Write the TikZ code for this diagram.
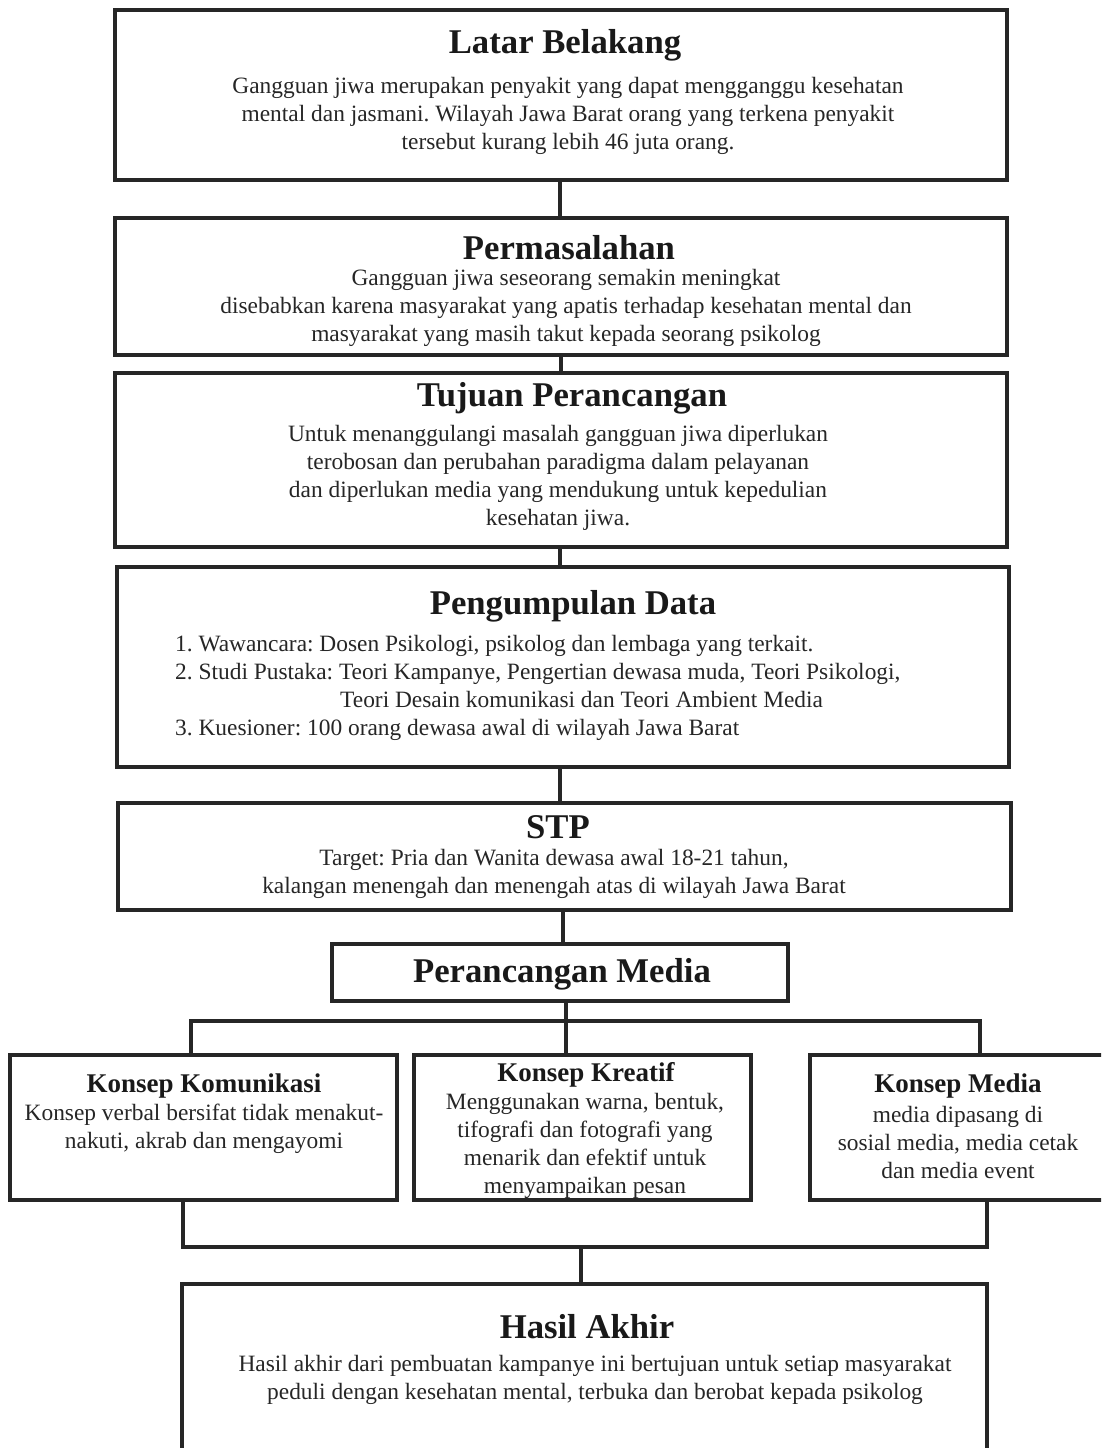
\documentclass[tikz,border=0pt]{standalone}
\usepackage{fontspec}
\setmainfont{Liberation Serif}
\usetikzlibrary{positioning}
\frenchspacing

\begin{document}
\begin{tikzpicture}[
    x=1pt, y=-1pt,
    box/.style={draw=black!85, line width=3.2pt, inner sep=0pt},
    ttl/.style={font=\fontsize{34.7}{40}\selectfont\bfseries, text=black!90, inner sep=0pt},
    sub/.style={font=\fontsize{27}{32}\selectfont\bfseries, text=black!90, inner sep=0pt},
    txt/.style={font=\fontsize{23.4}{28}\selectfont, text=black!85, align=center, inner sep=0pt},
    lnk/.style={draw=black!85, line width=3.2pt}
]
\useasboundingbox (0,0) rectangle (1101,1448);
\clip (0,0) rectangle (1101,1448);

% boxes
\node[box, minimum width=892, minimum height=170] (lb) at (561,95) {};
\node[box, minimum width=892, minimum height=137] (pm) at (561,286.5) {};
\node[box, minimum width=892, minimum height=174] (tp) at (561,460) {};
\node[box, minimum width=892, minimum height=200] (pd) at (563,667) {};
\node[box, minimum width=893, minimum height=107] (stp) at (564.5,856.5) {};
\node[box, minimum width=456, minimum height=57] (pmd) at (560,972.5) {};
\node[box, minimum width=387, minimum height=145] (kom) at (203.5,1127.5) {};
\node[box, minimum width=337, minimum height=145] (kre) at (582.5,1127.5) {};
\node[box, minimum width=294, minimum height=145] (med) at (957,1127.5) {};
\node[box, minimum width=805, minimum height=200] (hsl) at (584.5,1384) {};

% Latar Belakang
\node[ttl] (lbt) at (565,45) {Latar Belakang};
\node[txt] (lbx) at (568,116) {Gangguan jiwa merupakan penyakit yang dapat mengganggu kesehatan\\
    mental dan jasmani. Wilayah Jawa Barat orang yang terkena penyakit\\
    tersebut kurang lebih 46 juta orang.};

% Permasalahan
\node[ttl] (pmt) at (569,248) {Permasalahan};
\node[txt] (pmx) at (566,307.5) {Gangguan jiwa seseorang semakin meningkat\\
    disebabkan karena masyarakat yang apatis terhadap kesehatan mental dan\\
    masyarakat yang masih takut kepada seorang psikolog};

% Tujuan Perancangan
\node[ttl] (tpt) at (572,398) {Tujuan Perancangan};
\node[txt] (tpx) at (558,477.5) {Untuk menanggulangi masalah gangguan jiwa diperlukan\\
    terobosan dan perubahan paradigma dalam pelayanan\\
    dan diperlukan media yang mendukung untuk kepedulian\\
    kesehatan jiwa.};

% Pengumpulan Data
\node[ttl] (pdt) at (573,606) {Pengumpulan Data};
\node[txt, align=left, anchor=west] (pdx) at (175,688) {1. Wawancara: Dosen Psikologi, psikolog dan lembaga yang terkait.\\
    2. Studi Pustaka: Teori Kampanye, Pengertian dewasa muda, Teori Psikologi,\\
    \hspace*{165pt}Teori Desain komunikasi dan Teori Ambient Media\\
    3. Kuesioner: 100 orang dewasa awal di wilayah Jawa Barat};

% STP
\node[ttl] (stpt) at (558,827) {STP};
\node[txt] (stpx) at (554,873.5) {Target: Pria dan Wanita dewasa awal 18-21 tahun,\\
    kalangan menengah dan menengah atas di wilayah Jawa Barat};

% Perancangan Media
\node[ttl] (pmdt) at (562,974) {Perancangan Media};

% three concepts
\node[sub] (komt) at (204,1086) {Konsep Komunikasi};
\node[txt] (komx) at (204,1128.5) {Konsep verbal bersifat tidak menakut-\\
    nakuti, akrab dan mengayomi};
\node[sub] (kret) at (586,1075) {Konsep Kreatif};
\node[txt] (krex) at (585,1145.5) {Menggunakan warna, bentuk,\\
    tifografi dan fotografi yang\\
    menarik dan efektif untuk\\
    menyampaikan pesan};
\node[sub] (medt) at (958,1086) {Konsep Media};
\node[txt] (medx) at (958,1142.5) {media dipasang di\\
    sosial media, media cetak\\
    dan media event};

% Hasil Akhir
\node[ttl] (hslt) at (587,1327) {Hasil Akhir};
\node[txt] (hslx) at (595,1380) {Hasil akhir dari pembuatan kampanye ini bertujuan untuk setiap masyarakat\\
    peduli dengan kesehatan mental, terbuka dan berobat kepada psikolog};

% connectors
\draw[lnk] (lb.south) ++(-1,0) coordinate (c1) -- (c1 |- pm.north);
\draw[lnk] (pm.south) -- (pm.south |- tp.north);
\draw[lnk] (tp.south) ++(-1,0) coordinate (c3) -- (c3 |- pd.north);
\draw[lnk] (pd.south) ++(-3,0) coordinate (c4) -- (c4 |- stp.north);
\draw[lnk] (stp.south) ++(-1.5,0) coordinate (c5) -- (c5 |- pmd.north);

% split to concepts
\coordinate (s1) at (191,1021);
\coordinate (s3) at (980,1021);
\draw[lnk] (pmd.south) ++(6,0) coordinate (c6) -- (c6 |- s1);
\draw[lnk] (s1 |- kom.north) -- (s1) -- (s3) -- (s3 |- med.north);
\draw[lnk] (c6 |- s1) -- (c6 |- kre.north);

% join to Hasil Akhir
\coordinate (j1) at (183,1247);
\coordinate (j3) at (987,1247);
\draw[lnk] (j1 |- kom.south) -- (j1) -- (j3) -- (j3 |- med.south);
\draw[lnk] (hsl.north) ++(-3.5,0) coordinate (c7) -- (c7 |- j1);
\end{tikzpicture}
\end{document}
